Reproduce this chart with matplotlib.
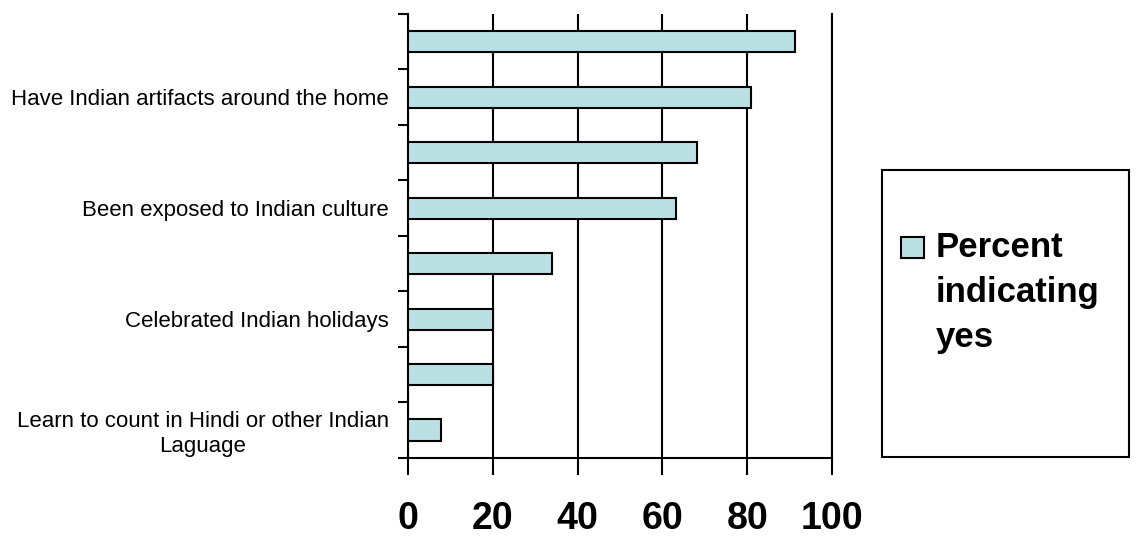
import matplotlib
matplotlib.use('Agg')
import matplotlib.pyplot as plt
from matplotlib.patches import Rectangle

plt.rcParams['font.family'] = ['Liberation Sans', 'DejaVu Sans']

# Data (top to bottom as shown); only every second label is printed in the original
categories = ['', 'Have Indian artifacts around the home', '', 'Been exposed to Indian culture',
              '', 'Celebrated Indian holidays', '', 'Learn to count in Hindi or other Indian\nLaguage']
values = [91.3, 81, 68.2, 63.3, 33.9, 20, 20, 7.9]
xticks = [0, 20, 40, 60, 80, 100]
legend_label = 'Percent\nindicating\nyes'

bar_color = '#BBE0E3'

W, H = 1144, 550
fig = plt.figure(figsize=(W / 100, H / 100), dpi=100)
ax = fig.add_axes([408 / W, 1 - 457.7 / H, 424 / W, 443.7 / H])

pos = list(range(len(categories)))
ax.barh(pos, values, height=0.38, color=bar_color, edgecolor='black', linewidth=1.5, zorder=3)

ax.set_xlim(0, 100)
ax.set_ylim(len(categories) - 0.5, -0.5)
ax.set_xticks(xticks)
ax.set_xticklabels([str(t) for t in xticks], fontsize=27, fontweight='bold')
ax.tick_params(axis='x', length=12, width=1.5, pad=19, direction='out')

ax.set_yticks(pos)
ax.set_yticklabels(categories, fontsize=16, multialignment='center')
ax.set_yticks([p - 0.5 for p in pos] + [len(pos) - 0.5], minor=True)
ax.tick_params(axis='y', which='major', length=0, pad=13.7)
ax.tick_params(axis='y', which='minor', length=7, width=1.5, direction='out')

ax.grid(axis='x', color='black', linewidth=1.5, zorder=0)
ax.set_axisbelow(True)
ax.spines['top'].set_visible(False)
for s in ['left', 'bottom', 'right']:
    ax.spines[s].set_linewidth(1.5)

# Legend box drawn on the figure
fig.patches.append(Rectangle((882 / W, 1 - 457 / H), 247 / W, 287 / H, transform=fig.transFigure,
                             facecolor='white', edgecolor='black', linewidth=1.5))
fig.patches.append(Rectangle((901 / W, 1 - 258 / H), 23 / W, 21 / H, transform=fig.transFigure,
                             facecolor=bar_color, edgecolor='black', linewidth=1.5))
fig.text(936 / W, 1 - 347 / H, legend_label, fontsize=25, fontweight='bold',
         va='baseline', ha='left', linespacing=1.46)

fig.savefig('out.png', dpi=100)
